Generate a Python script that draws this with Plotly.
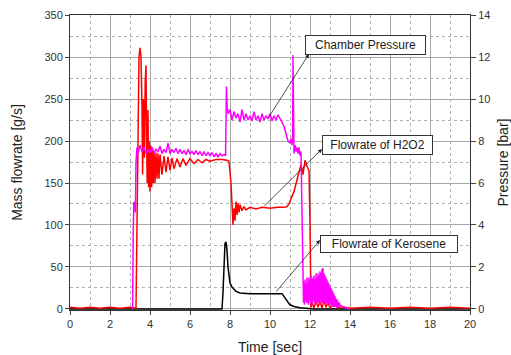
import plotly.graph_objects as go

# ---- data ----
# H2O2 mass flowrate [g/s]
h2o2_t = [0, 0.5, 1, 1.5, 2, 2.5, 3, 3.3, 3.35, 3.4, 3.45, 3.5, 3.55, 3.6, 3.63, 3.67, 3.72, 3.76,
          3.8, 3.83, 3.86, 3.9, 3.93, 3.96, 4.0, 4.04, 4.08, 4.12, 4.16, 4.2, 4.25, 4.3, 4.35,
          4.4, 4.45, 4.5, 4.6, 4.7, 4.8, 4.9, 5.0, 5.1, 5.2, 5.35, 5.5, 5.65, 5.8, 6.0, 6.2,
          6.4, 6.6, 6.8, 7.0, 7.3, 7.6, 7.85, 7.95, 8.05, 8.1, 8.15, 8.2, 8.25, 8.3, 8.35, 8.4,
          8.45, 8.5, 8.6, 8.7, 8.8, 9.0, 9.3, 9.6, 10.0, 10.4, 10.7, 10.85, 10.95, 11.2, 11.45,
          11.55, 11.65, 11.75, 11.85, 11.95, 12.0, 12.05, 12.1, 12.2, 12.3, 12.4, 12.5, 12.6,
          12.7, 12.8, 12.9, 13.0, 13.2, 13.4, 13.6, 14, 15, 16, 17, 18, 19, 20]
h2o2_v = [2, 1, 2, 1, 2, 1, 2, 1, 100, 230, 300, 311, 300, 240, 160, 250, 180, 270,
          290, 200, 150, 237, 145, 200, 140, 195, 145, 190, 150, 188, 150, 186, 155,
          185, 155, 184, 160, 182, 163, 181, 165, 180, 167, 179, 169, 179, 171, 179, 173,
          178, 174, 178, 176, 178, 178, 177, 176, 150, 112, 100, 120, 105, 128, 112, 126,
          115, 124, 117, 122, 118, 121, 119, 121, 120, 121, 121, 122, 125, 140, 165,
          172, 160, 177, 170, 165, 100, 2, 8, 1, 10, 2, 9, 1,
          11, 2, 8, 1, 6, 1, 3, 1, 2, 1, 2, 1, 2, 1]

# Chamber pressure [bar]
pc_t = [3.1, 3.13, 3.16, 3.19, 3.23, 3.27, 3.3, 3.35, 3.4, 3.5, 3.6, 3.7, 3.8, 3.9, 4.0, 4.1,
        4.2, 4.3, 4.4, 4.5, 4.6, 4.7, 4.8, 4.9, 5.0, 5.1, 5.2, 5.3, 5.4, 5.5, 5.6, 5.7, 5.8,
        5.9, 6.0, 6.1, 6.2, 6.3, 6.4, 6.5, 6.6, 6.7, 6.8, 6.9, 7.0, 7.1, 7.2, 7.3, 7.4, 7.5,
        7.6, 7.7, 7.78, 7.8, 7.82, 7.86, 7.9, 8.0, 8.1, 8.2, 8.3, 8.4, 8.5, 8.6, 8.7, 8.8, 8.9,
        9.0, 9.1, 9.2, 9.3, 9.4, 9.5, 9.6, 9.7, 9.8, 9.9, 10.0, 10.1, 10.2, 10.3, 10.4, 10.5,
        10.6, 10.7, 10.8, 10.9, 11.0, 11.05, 11.1, 11.13, 11.15, 11.17, 11.2, 11.25, 11.3,
        11.35, 11.4, 11.45, 11.5, 11.55, 11.58, 11.62,
        11.650, 11.675, 11.700, 11.725, 11.750, 11.775, 11.800, 11.825, 11.850, 11.875,
        11.900, 11.925, 11.950, 11.975, 12.000, 12.025, 12.050, 12.075, 12.100, 12.125,
        12.150, 12.175, 12.200, 12.225, 12.250, 12.275, 12.300, 12.325, 12.350, 12.375,
        12.400, 12.425, 12.450, 12.475, 12.500, 12.525, 12.550, 12.575, 12.600, 12.625,
        12.650, 12.675, 12.700, 12.725, 12.750, 12.775, 12.800, 12.825, 12.850, 12.875,
        12.900, 12.925, 12.950, 12.975, 13.000, 13.025, 13.050, 13.075, 13.100, 13.125,
        13.150, 13.175, 13.200, 13.225, 13.250, 13.275, 13.300, 13.325, 13.350, 13.375,
        13.400, 13.425, 13.450, 13.500, 13.600, 13.800, 14.000]
pc_v = [0, 0.1, 3.5, 5.1, 5.0, 4.6, 7.0, 7.7, 7.4, 7.8, 7.5, 7.7, 7.4, 7.6, 7.45, 7.7,
        7.4, 7.6, 7.5, 7.75, 7.4, 7.6, 7.45, 7.9, 7.4, 7.6, 7.45, 7.65, 7.4, 7.6, 7.4, 7.55, 7.35,
        7.6, 7.4, 7.5, 7.35, 7.55, 7.35, 7.5, 7.3, 7.5, 7.3, 7.45, 7.3, 7.45, 7.25, 7.4, 7.25, 7.4,
        7.3, 7.35, 7.3, 9.0, 10.6, 9.6, 9.3, 9.5, 9.0, 9.4, 9.1, 9.3, 8.9, 9.5, 9.0, 9.3, 9.0,
        9.2, 8.95, 9.4, 9.0, 9.2, 8.9, 9.3, 9.0, 9.2, 9.05, 9.3, 8.95, 9.2, 9.0, 9.25, 9.1,
        8.9, 8.7, 8.3, 8.0, 7.9, 8.1, 7.8, 8.2, 12.1, 8.0, 7.4, 7.8, 7.5,
        7.7, 7.4, 7.7, 7.3, 7.5, 6.0, 3.0,
        1.4, 0.3, 1.3, 0.2, 1.4, 0.4, 1.2, 0.3, 1.5, 0.3,
        1.3, 0.2, 1.5, 0.4, 1.4, 0.3, 1.6, 0.3, 1.4, 0.2,
        1.5, 0.4, 1.6, 0.3, 1.4, 0.2, 1.7, 0.4, 1.5, 0.3,
        1.7, 0.3, 1.6, 0.2, 1.8, 0.4, 1.7, 0.3, 1.9, 0.3,
        1.95, 0.4, 1.7, 0.3, 1.6, 0.2, 1.5, 0.3, 1.4, 0.2,
        1.3, 0.3, 1.2, 0.2, 1.1, 0.2, 1.0, 0.1, 0.9, 0.2,
        0.8, 0.1, 0.7, 0.1, 0.6, 0.1, 0.5, 0.1, 0.45, 0.05,
        0.35, 0.05, 0.3, 0.2, 0.1, 0.05, 0]

# Kerosene mass flowrate [g/s]
ker_t = [0, 7.6, 7.65, 7.7, 7.75, 7.8, 7.85, 7.9, 7.95, 8.0, 8.1, 8.2, 8.3, 8.5, 9.0, 9.5,
         10.0, 10.4, 10.6, 10.7, 10.8, 10.9, 11.0, 11.2, 11.5, 11.9, 12.2, 20]
ker_v = [0, 0, 20, 60, 78, 80, 70, 50, 38, 31, 26, 23, 21, 19, 18, 18,
         18, 18, 18, 15, 11, 8, 5, 3, 1.5, 0.5, 0, 0]

x_ticks = [0, 2, 4, 6, 8, 10, 12, 14, 16, 18, 20]
y_ticks = [0, 50, 100, 150, 200, 250, 300, 350]
p_ticks = [0, 2, 4, 6, 8, 10, 12, 14]

labels = ["Chamber Pressure", "Flowrate of H2O2", "Flowrate of Kerosene"]

FONT = "Liberation Sans, Arial, sans-serif"

fig = go.Figure()
fig.add_trace(go.Scatter(x=ker_t, y=ker_v, mode="lines", line=dict(color="black", width=1.5),
                         showlegend=False))
fig.add_trace(go.Scatter(x=h2o2_t, y=h2o2_v, mode="lines", line=dict(color="#ff0000", width=1.5),
                         showlegend=False))
fig.add_trace(go.Scatter(x=pc_t, y=pc_v, mode="lines", line=dict(color="#ff00ff", width=1.5),
                         yaxis="y2", showlegend=False))

grid_major = "#a8a8a8"
grid_minor = "#b0b0b0"
DASH = "3px,3px"

fig.update_layout(
    width=511, height=355,
    margin=dict(l=70, r=41, t=15, b=45),
    paper_bgcolor="white", plot_bgcolor="white",
    font=dict(family=FONT, size=11, color="#333333"),
    xaxis=dict(range=[0, 20], tickvals=x_ticks, ticks="outside", ticklen=4, automargin=False,
               showline=True, linecolor="#333333", mirror=True, linewidth=1,
               showgrid=True, gridcolor=grid_major, gridwidth=1, zeroline=False,
               minor=dict(dtick=1, showgrid=True, gridcolor=grid_minor, griddash=DASH),
               title=dict(text="Time [sec]", font=dict(size=14, color="#222222"), standoff=14)),
    yaxis=dict(range=[-1.2, 350], tickvals=y_ticks, ticks="outside", ticklen=4, automargin=False,
               showline=True, linecolor="#333333", mirror=True, linewidth=1,
               showgrid=True, gridcolor=grid_major, gridwidth=1, zeroline=False,
               minor=dict(dtick=25, showgrid=True, gridcolor=grid_minor, griddash=DASH),
               title=dict(text="Mass flowrate [g/s]", font=dict(size=14, color="#222222"), standoff=18)),
    yaxis2=dict(range=[-0.048, 14], tickvals=p_ticks, overlaying="y", side="right",
                ticks="outside", ticklen=5, showgrid=False, zeroline=False, automargin=False,
                showline=True, linecolor="#333333",
                title=dict(text="Pressure [bar]", font=dict(size=14, color="#222222"), standoff=8)),
)

# label boxes
boxes = [
    (14.78, 314, 117, 16),
    (15.375, 195, 107, 16),
    (15.95, 77.4, 134, 14),
]
for (bx, by, bw, bh), txt in zip(boxes, labels):
    fig.add_annotation(x=bx, y=by, xref="x", yref="y", text=txt, showarrow=False,
                       font=dict(family=FONT, size=12, color="#222222"),
                       bgcolor="white", bordercolor="#333333", borderwidth=1, borderpad=1,
                       width=bw, height=bh)

# arrows from curve to box corner
arrows = [
    ((11.95, 303.6), (9.9, 227)),
    ((12.6, 190.5), (9.65, 121)),
    ((12.5, 82), (10.25, 19)),
]
for (hx, hy), (tx, ty) in arrows:
    fig.add_annotation(x=hx, y=hy, xref="x", yref="y", ax=tx, ay=ty, axref="x", ayref="y",
                       text="", showarrow=True, arrowhead=2, arrowsize=1, arrowwidth=0.8,
                       arrowcolor="#222222", standoff=0, startstandoff=0)

fig.write_html("out.html")
